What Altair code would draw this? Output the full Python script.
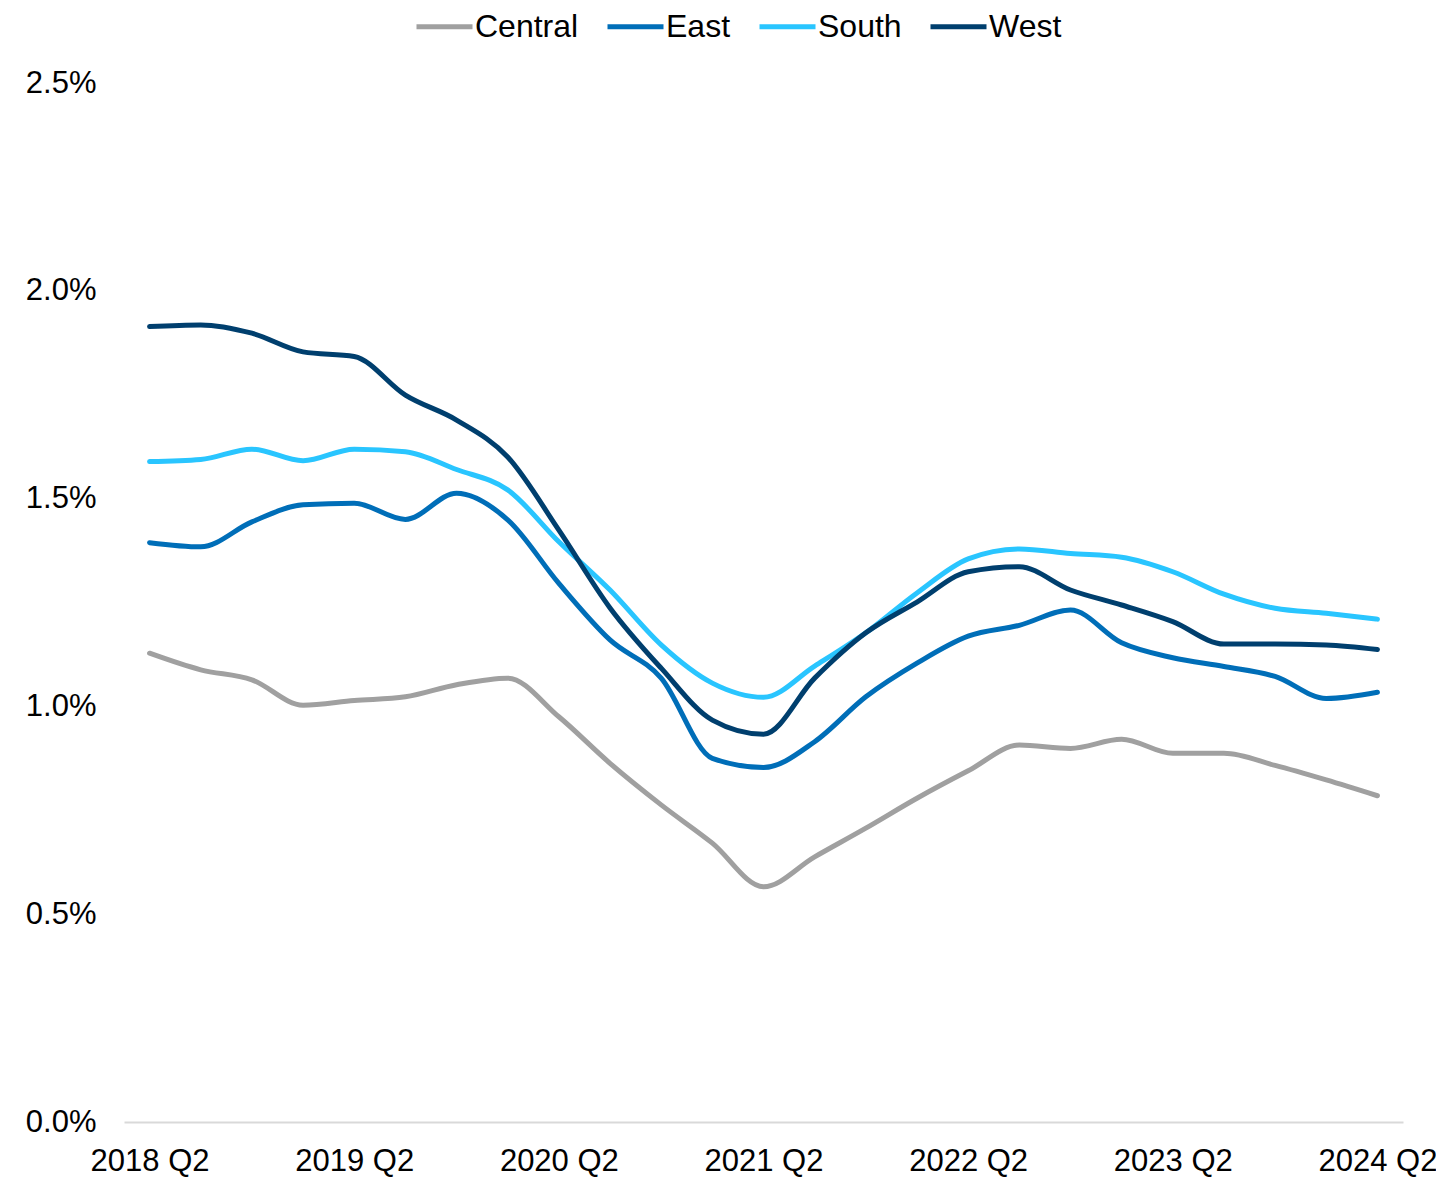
import altair as alt
import pandas as pd

quarters = [f"{y} Q{q}" for y, q in
            [(2018, 2), (2018, 3), (2018, 4)] +
            [(y, q) for y in range(2019, 2024) for q in (1, 2, 3, 4)] +
            [(2024, 1), (2024, 2)]]

central = [1.128, 1.088, 1.064, 1.003, 1.014, 1.023, 1.052, 1.068,
           0.975, 0.863, 0.763, 0.671, 0.566, 0.638, 0.707, 0.779,
           0.845, 0.907, 0.899, 0.921, 0.887, 0.887, 0.858, 0.823, 0.785]
east = [1.394, 1.384, 1.444, 1.485, 1.489, 1.450, 1.513, 1.449,
        1.296, 1.160, 1.068, 0.875, 0.853, 0.915, 1.023, 1.104,
        1.169, 1.195, 1.232, 1.153, 1.117, 1.096, 1.072, 1.019, 1.034]
south = [1.589, 1.594, 1.619, 1.591, 1.619, 1.613, 1.570, 1.521,
         1.396, 1.280, 1.148, 1.056, 1.022, 1.097, 1.177, 1.273,
         1.355, 1.379, 1.368, 1.359, 1.324, 1.270, 1.236, 1.224, 1.210]
west = [1.914, 1.918, 1.898, 1.853, 1.842, 1.749, 1.689, 1.600,
        1.424, 1.237, 1.092, 0.967, 0.933, 1.068, 1.177, 1.251,
        1.324, 1.336, 1.280, 1.244, 1.204, 1.150, 1.150, 1.148, 1.137]

regions = ["Central", "East", "South", "West"]
colors = ["#A0A0A0", "#006EB8", "#29C5FF", "#003F6E"]
x_labels = ["2018 Q2", "2019 Q2", "2020 Q2", "2021 Q2", "2022 Q2", "2023 Q2", "2024 Q2"]
y_ticks = [0, 0.5, 1.0, 1.5, 2.0, 2.5]

rows = []
for name, series in zip(regions, [central, east, south, west]):
    for i, (q, v) in enumerate(zip(quarters, series)):
        rows.append({"Quarter": q, "Region": name, "Value": v, "idx": i})
df = pd.DataFrame(rows)

FONT = "Liberation Sans"

chart = alt.Chart(df).mark_line(
    interpolate="monotone", strokeWidth=5, strokeCap="round", strokeJoin="round"
).encode(
    x=alt.X("Quarter:O", sort=quarters,
            scale=alt.Scale(paddingOuter=0.5),
            axis=alt.Axis(title=None, values=x_labels, labelAngle=0,
                          ticks=False, grid=False, domain=True,
                          domainColor="#D9D9D9", domainWidth=2,
                          labelFont=FONT, labelFontSize=31, labelColor="#000000",
                          labelPadding=24)),
    y=alt.Y("Value:Q", scale=alt.Scale(domain=[0, 2.5], nice=False),
            axis=alt.Axis(title=None, values=y_ticks, ticks=False, grid=False,
                          domain=False, labelExpr="format(datum.value, '.1f') + '%'",
                          labelFont=FONT, labelFontSize=31, labelColor="#000000",
                          labelPadding=28)),
    color=alt.Color("Region:N", scale=alt.Scale(domain=regions, range=colors),
                    legend=alt.Legend(title=None, orient="none", direction="horizontal",
                                      legendX=290, legendY=-87,
                                      symbolType="stroke", symbolSize=3136,
                                      symbolStrokeWidth=5,
                                      labelFont=FONT, labelFontSize=32,
                                      labelColor="#000000", labelOffset=0,
                                      columnPadding=18)),
    order="idx:Q",
).properties(
    width=1279, height=1039,
    autosize=alt.AutoSizeParams(type="none"),
    padding={"left": 116, "top": 75, "right": 33, "bottom": 55},
    background="white",
).configure_view(stroke=None)

chart.save("out.html", embed_options={"renderer": "svg", "actions": False})
